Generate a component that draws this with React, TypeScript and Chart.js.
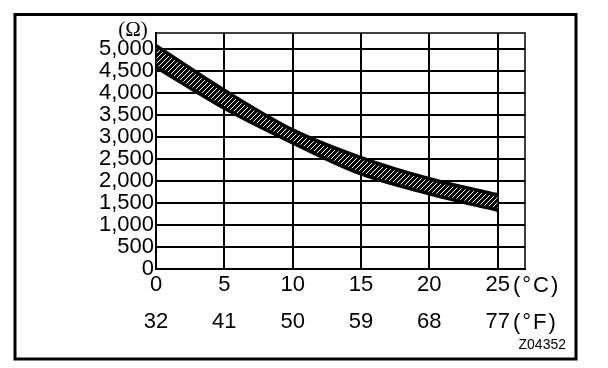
import React, { useEffect, useRef } from 'react';
import { Chart, registerables } from 'chart.js';

Chart.register(...registerables);

// ---- data ----
const tempC = [0, 5, 10, 15, 20, 25];
const upperOhm = [5070, 4060, 3160, 2530, 2050, 1685];
const lowerOhm = [4585, 3650, 2865, 2160, 1710, 1335];
const yTickValues = [0, 500, 1000, 1500, 2000, 2500, 3000, 3500, 4000, 4500, 5000];
const xTickValues = [0, 5, 10, 15, 20, 25];
const xMin = 0;
const xMax = 27;
const yMin = 0;
const yMax = 5360;
const yUnit = '(Ω)';
const cUnit = '(°C)';
const fUnit = '(°F)';
const figureCode = 'Z04352';

const FONT = 'Liberation Sans, Arial, Helvetica, sans-serif';

function fmtThousands(v: number): string {
  const s = String(Math.round(v));
  return s.replace(/\B(?=(\d{3})+(?!\d))/g, ',');
}

function makePattern(): CanvasPattern | string {
  const n = 5;
  const c = document.createElement('canvas');
  c.width = n;
  c.height = n;
  const g = c.getContext('2d');
  if (!g) return '#000';
  g.fillStyle = '#000';
  g.fillRect(0, 0, n, n);
  g.fillStyle = '#fff';
  for (let i = 0; i < n; i++) g.fillRect(n - 1 - i, i, 1, 1);
  return g.createPattern(c, 'repeat') || '#000';
}

const decorPlugin = {
  id: 'decor',
  afterDraw(chart: any) {
    const { ctx, chartArea: a } = chart;
    ctx.save();
    ctx.strokeStyle = '#000';
    // plot frame (top / right edges)
    ctx.lineWidth = 1.5;
    ctx.strokeRect(a.left, a.top, a.right - a.left, a.bottom - a.top);
    // outer figure frame
    ctx.lineWidth = 3;
    ctx.strokeRect(15, 14.5, 561, 344.5);

    ctx.fillStyle = '#000';
    // y unit
    ctx.font = '21px "Liberation Serif", "Times New Roman", serif';
    ctx.textAlign = 'center';
    ctx.textBaseline = 'middle';
    ctx.fillText(yUnit, a.left - 23, a.top - 3);

    // x units
    ctx.font = '22px ' + FONT;
    ctx.textAlign = 'left';
    try { (ctx as any).letterSpacing = '2px'; } catch (e) { /* ignore */ }
    ctx.fillText(cUnit, a.right - 12, 286);
    ctx.fillText(fUnit, a.right - 12, 323);
    try { (ctx as any).letterSpacing = '0px'; } catch (e) { /* ignore */ }

    // figure code
    ctx.font = '14px ' + FONT;
    ctx.textAlign = 'right';
    ctx.fillText(figureCode, 566, 345);
    ctx.restore();
  },
};

export default function App() {
  const ref = useRef<HTMLCanvasElement | null>(null);

  useEffect(() => {
    if (!ref.current) return;
    const lower = tempC.map((x, i) => ({ x, y: lowerOhm[i] }));
    const upper = tempC.map((x, i) => ({ x, y: upperOhm[i] }));
    const tickFont = { family: FONT, size: 22 };
    const setX = (s: any) => {
      s.ticks = xTickValues.map((v) => ({ value: v }));
    };

    const chart = new Chart(ref.current, {
      type: 'line',
      data: {
        datasets: [
          {
            label: 'lower',
            data: lower,
            borderColor: '#000',
            borderWidth: 3.5,
            pointRadius: 0,
            cubicInterpolationMode: 'monotone',
            fill: false,
          },
          {
            label: 'upper',
            data: upper,
            borderColor: '#000',
            borderWidth: 3.5,
            pointRadius: 0,
            cubicInterpolationMode: 'monotone',
            fill: '-1',
            backgroundColor: makePattern() as any,
          },
        ],
      },
      options: {
        animation: false,
        responsive: true,
        maintainAspectRatio: false,
        layout: { padding: { top: 33, right: 83, left: 0, bottom: 0 } },
        plugins: {
          legend: { display: false },
          tooltip: { enabled: false },
          title: { display: false },
        },
        scales: {
          x: {
            type: 'linear',
            position: 'bottom',
            min: xMin,
            max: xMax,
            grid: { color: '#000', lineWidth: 2, drawTicks: false },
            border: { color: '#000', width: 2 },
            afterBuildTicks: setX,
            ticks: {
              autoSkip: false,
              color: '#000',
              font: tickFont,
              padding: 3,
              maxRotation: 0,
              callback: (v: any) => String(v),
            },
            afterFit: (s: any) => {
              s.height = 40;
            },
          },
          x2: {
            type: 'linear',
            position: 'bottom',
            min: xMin,
            max: xMax,
            grid: { display: false, drawTicks: false },
            border: { display: false },
            afterBuildTicks: setX,
            ticks: {
              autoSkip: false,
              color: '#000',
              font: tickFont,
              padding: 0,
              maxRotation: 0,
              callback: (v: any) => String(Math.round((Number(v) * 9) / 5 + 32)),
            },
            afterFit: (s: any) => {
              s.height = 59;
            },
          },
          y: {
            type: 'linear',
            min: yMin,
            max: yMax,
            grid: { color: '#000', lineWidth: 2, drawTicks: false },
            border: { color: '#000', width: 2 },
            afterBuildTicks: (s: any) => {
              s.ticks = yTickValues.map((v) => ({ value: v }));
            },
            ticks: {
              autoSkip: false,
              color: '#000',
              font: tickFont,
              padding: 2,
              callback: (v: any) => fmtThousands(Number(v)),
            },
            afterFit: (s: any) => {
              s.width = 156;
            },
          },
        },
      },
      plugins: [decorPlugin],
    } as any);

    return () => chart.destroy();
  }, []);

  return (
    <div style={{ position: 'absolute', left: 0, top: 0, width: 608, height: 368, background: '#fff' }}>
      <canvas ref={ref} />
    </div>
  );
}
